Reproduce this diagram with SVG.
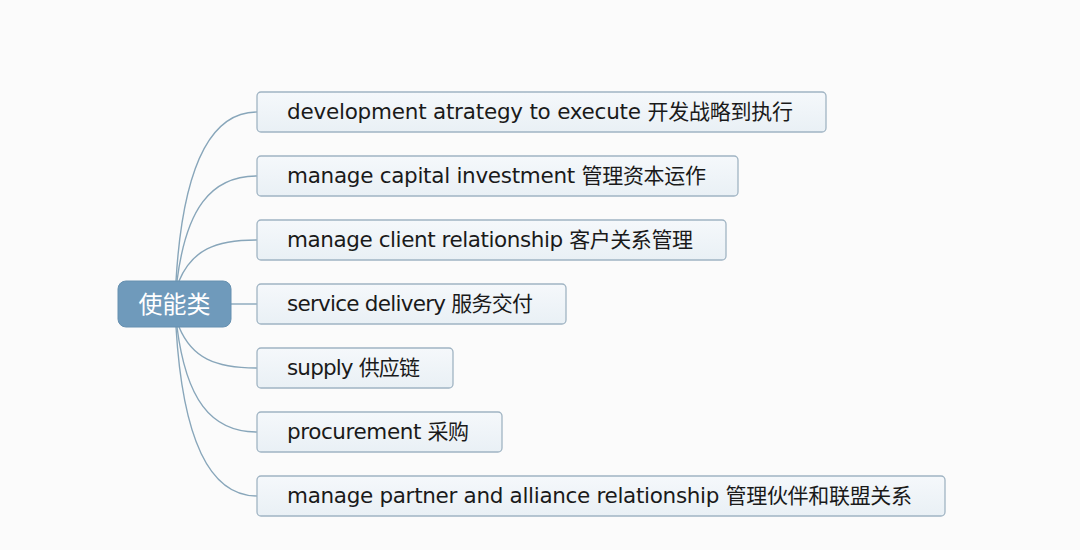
<svg xmlns="http://www.w3.org/2000/svg" width="1080" height="550" viewBox="0 0 1080 550">
<defs>
<linearGradient id="boxg" x1="0" y1="0" x2="0" y2="1">
<stop offset="0" stop-color="#f5f8fb"/>
<stop offset="1" stop-color="#e9f0f5"/>
</linearGradient>
<style>
.box{fill:url(#boxg);stroke:#a0b4c3;stroke-width:1.3}
.lbl{font-family:"DejaVu Sans","Noto Sans CJK SC",sans-serif;font-size:21.5px;fill:#1a1a1a}
.cjk{font-family:"Noto Sans CJK SC",sans-serif;font-size:21px}
.conn{fill:none;stroke:#88a6ba;stroke-width:1.4}
.root{fill:#6f9abb;stroke:#6690b0;stroke-width:1}
.rootlbl{font-family:"Noto Sans CJK SC",sans-serif;font-size:24px;fill:#ffffff;text-anchor:middle}
</style>
</defs>
<rect width="1080" height="550" fill="#fbfbfb"/>
<g id="connectors">
<path class="conn" d="M176,281 C182,180 205,112 257,112"/>
<path class="conn" d="M177,281 C186,210 210,176 257,176"/>
<path class="conn" d="M179,281 C192,250 215,240 257,240"/>
<path class="conn" d="M231,304 L257,304"/>
<path class="conn" d="M179,327 C192,358 215,368 257,368"/>
<path class="conn" d="M177,327 C186,398 210,432 257,432"/>
<path class="conn" d="M176,327 C182,428 205,496 257,496"/>
</g>
<g id="root">
<rect class="root" x="118" y="281" width="113" height="46" rx="8"/>
<text class="rootlbl" x="174.5" y="312.5">使能类</text>
</g>
<g id="n1">
<rect class="box" x="257" y="92" width="569" height="40" rx="4"/>
<text class="lbl" x="287" y="119" textLength="506" lengthAdjust="spacing">development atrategy to execute <tspan class="cjk">开发战略到执行</tspan></text>
</g>
<g id="n2">
<rect class="box" x="257" y="156" width="481" height="40" rx="4"/>
<text class="lbl" x="287" y="183" textLength="419" lengthAdjust="spacing">manage capital investment <tspan class="cjk">管理资本运作</tspan></text>
</g>
<g id="n3">
<rect class="box" x="257" y="220" width="469" height="40" rx="4"/>
<text class="lbl" x="287" y="247" textLength="406" lengthAdjust="spacing">manage client relationship <tspan class="cjk">客户关系管理</tspan></text>
</g>
<g id="n4">
<rect class="box" x="257" y="284" width="309" height="40" rx="4"/>
<text class="lbl" x="287" y="311" textLength="246" lengthAdjust="spacing">service delivery <tspan class="cjk">服务交付</tspan></text>
</g>
<g id="n5">
<rect class="box" x="257" y="348" width="196" height="40" rx="4"/>
<text class="lbl" x="287" y="375" textLength="133" lengthAdjust="spacing">supply <tspan class="cjk">供应链</tspan></text>
</g>
<g id="n6">
<rect class="box" x="257" y="412" width="245" height="40" rx="4"/>
<text class="lbl" x="287" y="439" textLength="182" lengthAdjust="spacing">procurement <tspan class="cjk">采购</tspan></text>
</g>
<g id="n7">
<rect class="box" x="257" y="476" width="688" height="40" rx="4"/>
<text class="lbl" x="287" y="503" textLength="625" lengthAdjust="spacing">manage partner and alliance relationship <tspan class="cjk">管理伙伴和联盟关系</tspan></text>
</g>
</svg>
